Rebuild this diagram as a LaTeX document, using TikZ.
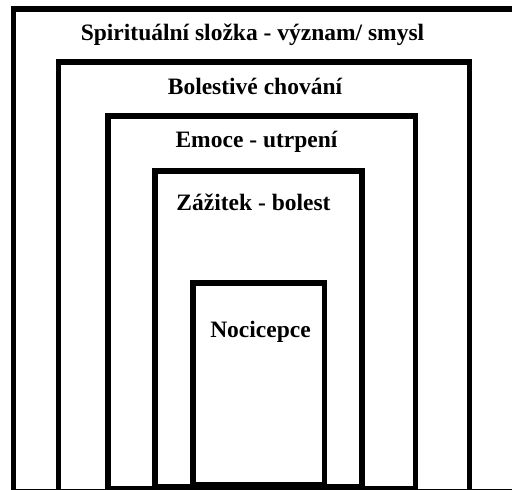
\documentclass[tikz,border=0pt]{standalone}
\usepackage{fontspec}
\setmainfont{Liberation Serif}
\begin{document}
\begin{tikzpicture}[x=1pt,y=-1pt,
  frame/.style={draw=black,line width=5.5pt},
  label/.style={font=\fontsize{23.5}{26}\selectfont\bfseries,inner sep=0pt,anchor=base}]
\useasboundingbox (0,0) rectangle (512,490);
\clip (0,0) rectangle (512,490);
% nested frames, outermost first
\draw[frame] (13.5,8.8) rectangle (560,491.8);
\draw[frame] (58.5,62) rectangle (469.5,491.8);
\draw[frame] (108,115.8) rectangle (415.5,488.8);
\draw[frame] (155,170.8) rectangle (362,486.8);
\draw[frame] (193,283) rectangle (324.3,484.5);
% frame titles
\node[label] (spirit) at (252.5,40.7) {Spirituální složka - význam/ smysl};
\node[label] (behav) at (255,94) {Bolestivé chování};
\node[label] (emo) at (256.5,147) {Emoce - utrpení};
\node[label] (exp) at (253.5,210) {Zážitek - bolest};
\node[label] (noci) at (260.5,337) {Nocicepce};
\end{tikzpicture}
\end{document}
